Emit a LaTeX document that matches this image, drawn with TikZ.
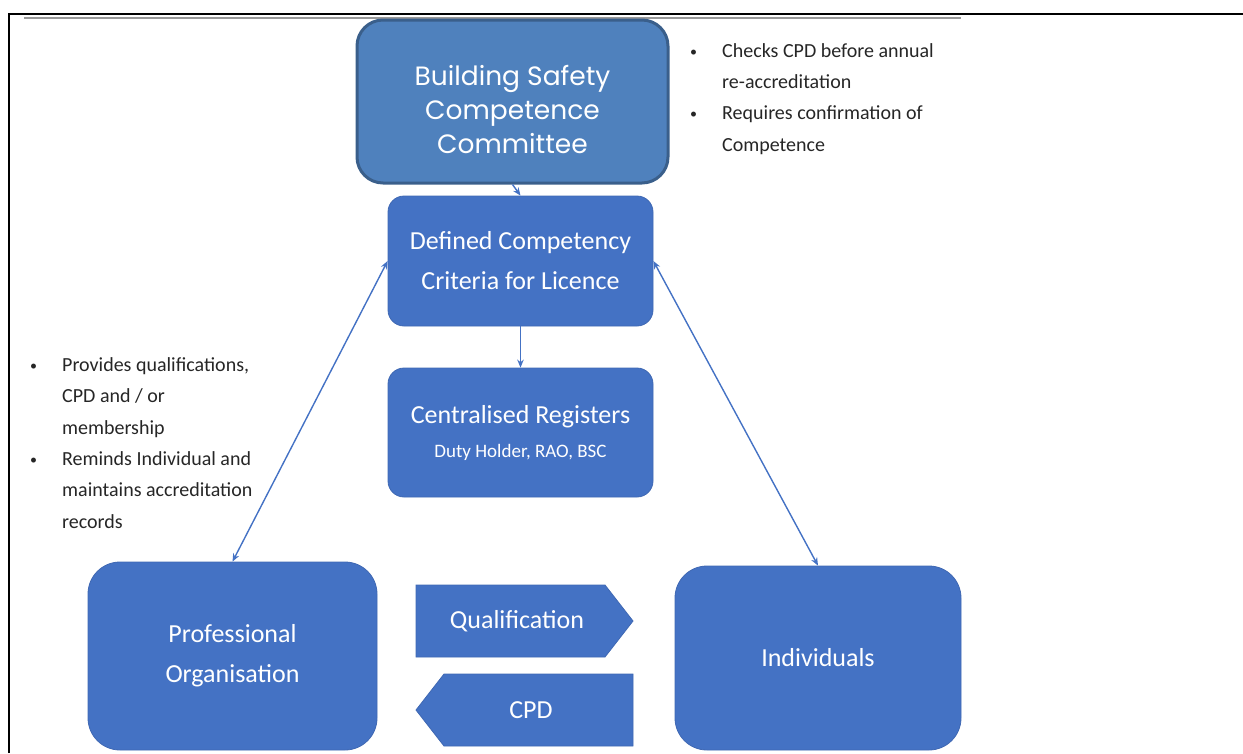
\documentclass[tikz,border=0pt]{standalone}
\usepackage{fontspec}
\setmainfont{Carlito}
\newfontfamily\geofont{Poppins}
\usetikzlibrary{arrows.meta}
\definecolor{bscfill}{HTML}{4F81BD}
\definecolor{bscedge}{HTML}{3A5F8B}
\definecolor{boxfill}{HTML}{4472C4}
\definecolor{boxedge}{HTML}{3F68B3}
\definecolor{txtgray}{HTML}{262626}
\tikzset{
  bluebox/.style={draw=boxedge, line width=0.8pt, fill=boxfill, rounded corners=16pt, inner sep=0pt,
    text=white, align=center, font=\fontsize{26}{40}\selectfont},
  bigbox/.style={bluebox, rounded corners=32pt},
  sigtext/.style={inner sep=0pt, text=white, font=\fontsize{26}{40}\selectfont,
    minimum width=217pt, minimum height=72pt},
  sigshape/.style={draw=boxedge, line width=0.8pt, fill=boxfill},
  link/.style={draw=boxfill, line width=1.4pt},
  tip/.style={-{Stealth[length=8pt,width=6.5pt]}},
  bulletlist/.style={inner sep=0pt, align=left, text=txtgray, font=\fontsize{20}{31.3}\selectfont}
}
\newcommand{\bl}{\makebox[32pt][l]{\raisebox{1pt}{\fontsize{14}{14}\selectfont•}}}
\newcommand{\ind}{\hspace*{32pt}}
\begin{document}
\begin{tikzpicture}[x=1pt,y=-1pt]
\useasboundingbox (0,0) rectangle (1243,753);
% frame
\draw[line width=2.5pt, black] (9,753) -- (9,14) -- (1243,14);
\draw[line width=2pt, black!40] (24,17.5) -- (961,17.5);
% nodes
\node[draw=bscedge, line width=3pt, fill=bscfill, rounded corners=26pt, inner sep=0pt,
  minimum width=311pt, minimum height=163pt] (bscc) at (512.5,101.5) {};
\node[text=white, align=center, inner sep=0pt,
  font=\geofont\fontsize{26.5}{34}\selectfont] (bscctext) at (512.5,109)
  {Building Safety\\Competence\\Committee};
\node[bluebox, minimum width=265pt, minimum height=130pt] (def) at (520.5,261)
  {Defined Competency\\Criteria for Licence};
\node[bluebox, minimum width=265pt, minimum height=129pt] (reg) at (520.5,432.5)
  {Centralised Registers\\[-6pt]{\fontsize{19}{24}\selectfont Duty Holder, RAO, BSC}};
\node[bigbox, minimum width=289pt, minimum height=188pt] (prof) at (232.5,656)
  {Professional\\Organisation};
\node[bigbox, minimum width=286pt, minimum height=184pt] (ind) at (818,658)
  {Individuals};
% signal arrows
\path[sigshape] (416,585) -- (605,585) -- (633,621) -- (605,657) -- (416,657) -- cycle;
\path[sigshape] (633,674) -- (444,674) -- (416,710) -- (444,746) -- (633,746) -- cycle;
\node[sigtext] (qual) at (517,621) {Qualification};
\node[sigtext] (cpd) at (531,710) {CPD};
% connectors
\draw[link, tip] (bscc.south) -- (def.north);
\draw[link, tip] (def.south) -- (reg.north);
\draw[link, {Stealth[length=8pt,width=6.5pt]}-{Stealth[length=8pt,width=6.5pt]}] (def.west) -- (prof.north);
\draw[link, {Stealth[length=8pt,width=6.5pt]}-{Stealth[length=8pt,width=6.5pt]}] (def.east) -- (ind.north);
% bullet texts
\node[bulletlist, anchor=west] (rnote) at (690,99)
  {\bl Checks CPD before annual\\ \ind re-accreditation\\ \bl Requires confirmation of\\ \ind Competence};
\node[bulletlist, anchor=west] (lnote) at (30,443)
  {\bl Provides qualifications,\\ \ind CPD and / or\\ \ind membership\\ \bl Reminds Individual and\\ \ind maintains accreditation\\ \ind records};
\end{tikzpicture}
\end{document}
